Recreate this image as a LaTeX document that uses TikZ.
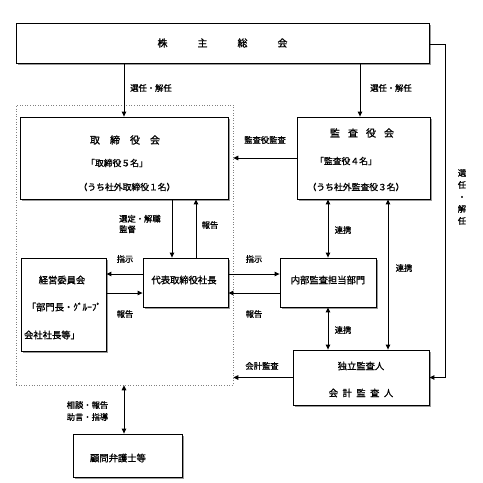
\documentclass[tikz,border=0pt]{standalone}
\usepackage{fontspec}
\setmainfont{Noto Sans CJK JP}[FakeBold=1.2]
\usetikzlibrary{arrows.meta,shadows}
\begin{document}
\begin{tikzpicture}[x=1pt,y=-1pt,
 box/.style={draw, line width=0.8pt, fill=white, inner sep=0pt,
   drop shadow={shadow xshift=1.5pt,shadow yshift=-1.5pt,fill=black!40,opacity=1}},
 grpbox/.style={draw=gray, dotted, line width=0.6pt, inner sep=0pt},
 ttl/.style={font=\fontsize{10}{12}\selectfont, inner sep=0pt},
 txt/.style={font=\fontsize{9.3}{11}\selectfont, inner sep=0pt},
 sub/.style={font=\fontsize{8.8}{11}\selectfont, inner sep=0pt},
 lbl/.style={font=\fontsize{8.3}{11}\selectfont, inner sep=0pt, align=left},
 arr/.style={line width=1pt, -{Triangle[length=5pt,width=4.5pt]}},
 darr/.style={line width=1pt, {Triangle[length=5pt,width=4.5pt]}-{Triangle[length=5pt,width=4.5pt]}}]
\useasboundingbox (0,0) rectangle (483,483);

% group (dotted)
\node[grpbox, minimum width=217pt, minimum height=280pt] (grp) at (124.5,245) {};

% boxes
\node[box, minimum width=413pt, minimum height=40pt] (kabu) at (222.5,43) {};
\node[ttl] (kabut) at (222.5,43) {株\hspace{30pt}主\hspace{30pt}総\hspace{30pt}会};

\node[box, minimum width=208pt, minimum height=82pt] (tor) at (124,158) {};
\node[ttl] (tor1) at (125,140) {取\hspace{10pt}締\hspace{10pt}役\hspace{10pt}会};
\node[sub] (tor2) at (117,163) {「取締役５名」};
\node[sub] (tor3) at (127,187) {（うち社外取締役１名）};

\node[box, minimum width=133pt, minimum height=82pt] (kansa) at (363.5,158) {};
\node[ttl] (kansa1) at (362,133) {監\hspace{8pt}査\hspace{8pt}役\hspace{8pt}会};
\node[sub] (kansa2) at (346,161) {「監査役４名」};
\node[sub] (kansa3) at (356,187) {（うち社外監査役３名）};

\node[box, minimum width=85pt, minimum height=49pt] (daihyo) at (185.5,282.5) {};
\node[txt] (daihyot) at (184,280) {代表取締役社長};

\node[box, minimum width=85pt, minimum height=93pt] (keiei) at (63.5,304.5) {};
\node[txt] (keiei1) at (62,280) {経営委員会};
\node[txt] (keiei2) at (64,307) {「部門長・ｸﾞﾙｰﾌﾟ};
\node[txt] (keiei3) at (52,335) {会社社長等」};

\node[box, minimum width=96pt, minimum height=49pt] (naibu) at (328,282.5) {};
\node[txt] (naibut) at (328,280) {内部監査担当部門};

\node[box, minimum width=136pt, minimum height=55pt] (dok) at (361,377.5) {};
\node[txt] (dok1) at (361,366) {独立監査人};
\node[txt] (dok2) at (361,393) {会\hspace{4.5pt}計\hspace{4.5pt}監\hspace{4.5pt}査\hspace{4.5pt}人};

\node[box, minimum width=109pt, minimum height=43pt] (komon) at (127.5,455.5) {};
\node[txt] (komont) at (118,458) {顧問弁護士等};

% helper coordinates
\coordinate (xa) at (124,0);
\coordinate (xb) at (360,0);
\coordinate (xc) at (172,0);
\coordinate (xd) at (196,0);
\coordinate (xe) at (388,0);
\coordinate (ya) at (0,274);
\coordinate (yb) at (0,293);
\coordinate (corner) at (445,44);

% connectors
\draw[arr] (kabu.south -| xa) -- (tor.north -| xa);
\draw[arr] (kabu.south -| xb) -- (kansa.north -| xb);
\draw[arr] (kabu.east |- corner) -- (corner) |- (dok.east);
\draw[arr] (kansa.west) -- (grp.east |- kansa.west);
\draw[arr] (tor.south -| xc) -- (daihyo.north -| xc);
\draw[arr] (daihyo.north -| xd) -- (tor.south -| xd);
\draw[arr] (daihyo.west |- ya) -- (keiei.east |- ya);
\draw[arr] (keiei.east |- yb) -- (daihyo.west |- yb);
\draw[arr] (daihyo.east |- ya) -- (naibu.west |- ya);
\draw[arr] (naibu.west |- yb) -- (daihyo.east |- yb);
\draw[darr] (naibu.north) -- (naibu.north |- kansa.south);
\draw[darr] (naibu.south) -- (naibu.south |- dok.north);
\draw[darr] (kansa.south -| xe) -- (dok.north -| xe);
\draw[arr] (dok.west) -- (grp.east |- dok.west);
\draw[darr] (grp.south -| xa) -- (komon.north -| xa);

% labels
\node[lbl] (l1) at (151,88) {選任・解任};
\node[lbl] (l2) at (391,88) {選任・解任};
\node[lbl] (l3) at (265,140) {監査役監査};
\node[lbl, anchor=west, font=\fontsize{8.3}{10.5}\selectfont] (l4) at (119,224) {選定・解職\\監督};
\node[lbl] (l5) at (210,225) {報告};
\node[lbl] (l6) at (343,230) {連携};
\node[lbl] (l7) at (404,268) {連携};
\node[lbl] (l8) at (343,330) {連携};
\node[lbl] (l9) at (125,259) {指示};
\node[lbl] (l10) at (125,314) {報告};
\node[lbl] (l11) at (254,259) {指示};
\node[lbl] (l12) at (254,314) {報告};
\node[lbl] (l13) at (262,366) {会計監査};
\node[lbl, align=center, font=\fontsize{8.3}{12}\selectfont] (l14) at (462,197) {選\\任\\・\\解\\任};
\node[lbl, font=\fontsize{8.3}{12}\selectfont] (l15) at (87.5,411) {相談・報告\\助言・指導};
\end{tikzpicture}
\end{document}
